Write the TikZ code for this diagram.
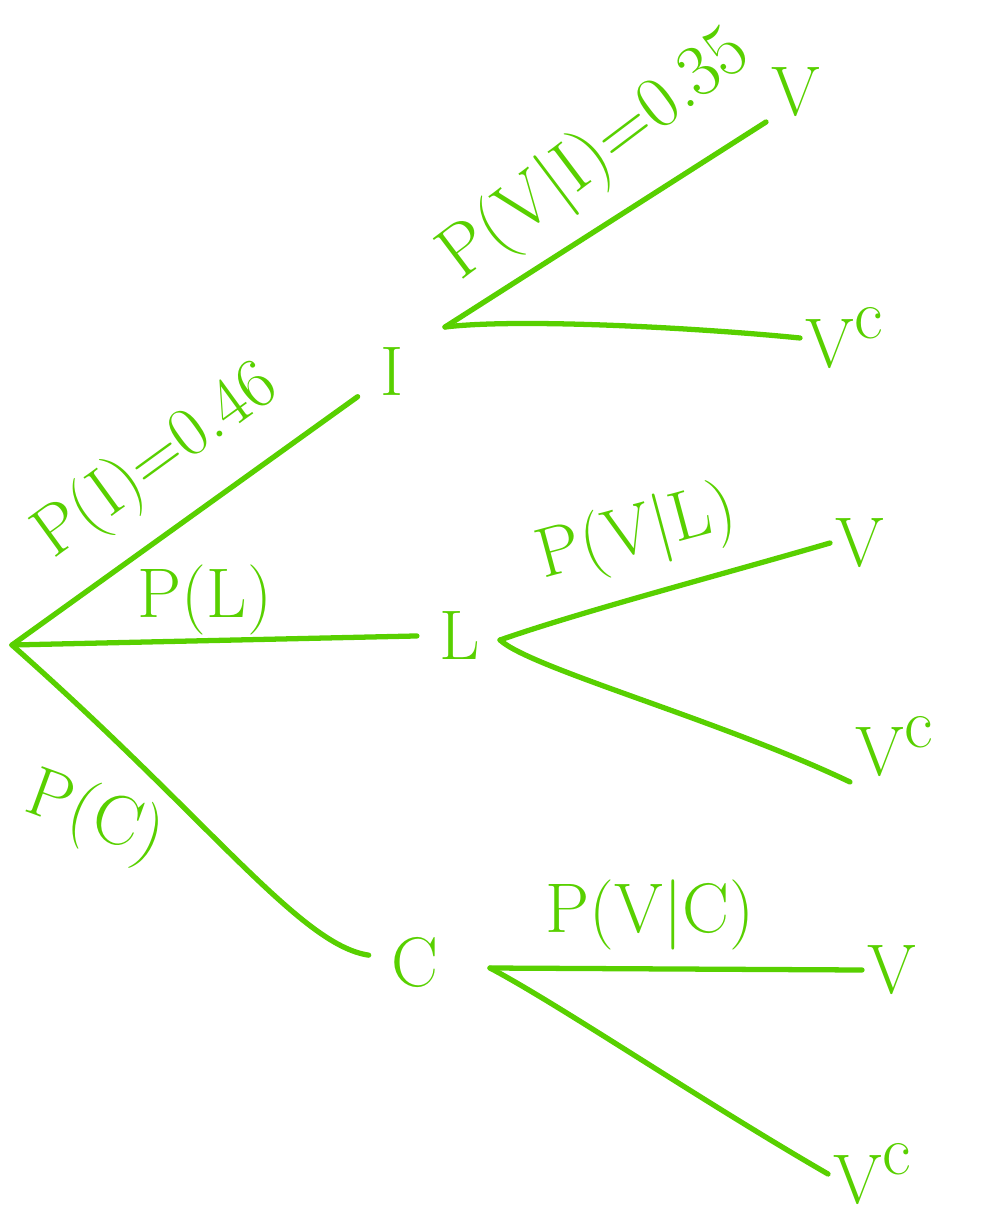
\documentclass[tikz,border=0pt]{standalone}
\usepackage{fontspec}
\definecolor{ink}{RGB}{88,208,0}
\tikzset{
  branch/.style={draw=ink, line width=3pt, line cap=round, line join=round},
  hand/.style={text=ink, font=\fontsize{40}{44}\selectfont, inner sep=2pt},
  stage/.style={hand, inner sep=0.45cm},
  leaf/.style={hand, inner sep=3pt},
}
\newcommand{\compl}[1]{#1\raisebox{0.4em}{c}}
\begin{document}
\begin{tikzpicture}[x=0.02cm, y=-0.02cm]
  \useasboundingbox (0,0) rectangle (981,1219);

  % first stage: I, L, C
  \coordinate (root) at (12,645);
  \node[stage] (I) at (392,372) {I};
  \node[stage] (L) at (460,635) {L};
  \node[stage] (C) at (415,962) {C};

  % forks of the second stage
  \coordinate (forkI) at (445,327);
  \coordinate (forkL) at (500,640);
  \coordinate (forkC) at (490,968);

  % outcomes
  \node[leaf, anchor=south west] (VI)  at (766,122)  {V};
  \node[leaf, anchor=west]       (VcI) at (800,338)  {\compl{V}};
  \node[leaf, anchor=west]       (VL)  at (830,543)  {V};
  \node[leaf, anchor=south west] (VcL) at (850,782)  {\compl{V}};
  \node[leaf, anchor=west]       (VC)  at (862,970)  {V};
  \node[leaf, anchor=west]       (VcC) at (828,1174) {\compl{V}};

  % branch probabilities
  \node[hand, rotate=36]  (pI)  at (157,462) {P(I)=0.46};
  \node[hand, rotate=37, font=\fontsize{42}{46}\selectfont]
                          (pVI) at (596,156) {P(V|I)=0.35};
  \node[hand]             (pL)  at (205,600) {P(L)};
  \node[hand, rotate=15]  (pVL) at (637,535) {P(V|L)};
  \node[hand, rotate=-20] (pC)  at (95,818)  {P(C)};
  \node[hand]             (pVC) at (650,915) {P(V|C)};

  % branches
  \draw[branch] (root) -- (I);
  \draw[branch] (root) -- (L);
  \draw[branch] (root) .. controls (210,820) and (300,945) .. (C);

  \draw[branch] (forkI) -- (VI.south west);
  \draw[branch] (forkI) .. controls (520,318) and (700,328) .. (VcI.west);
  \draw[branch] (forkL) .. controls (580,612) and (720,575) .. (VL.west);
  \draw[branch] (forkL) .. controls (530,668) and (720,720) .. (VcL.south west);
  \draw[branch] (forkC) -- (VC.west);
  \draw[branch] (forkC) .. controls (560,1005) and (700,1100) .. (VcC.west);
\end{tikzpicture}
\end{document}
